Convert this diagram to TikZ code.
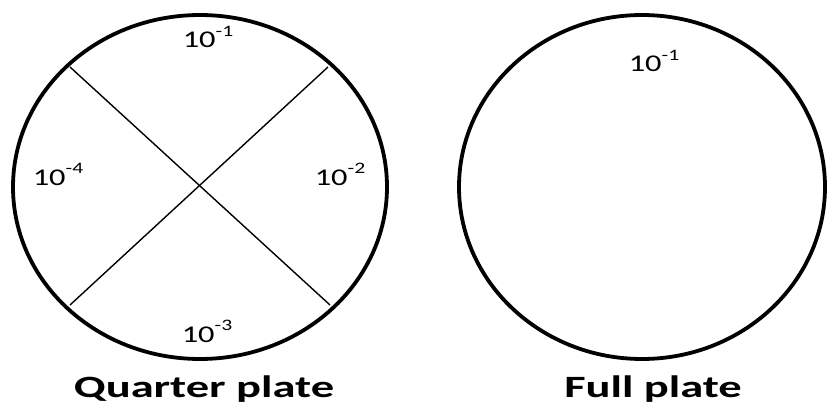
\documentclass[tikz,border=0pt]{standalone}
\usepackage{fontspec}
\setmainfont{Carlito}
\newcommand{\dilsup}[1]{\raisebox{0.48em}{\fontsize{16}{17}\selectfont #1}}
\begin{document}
\begin{tikzpicture}[x=1pt,y=1pt,
  plate/.style={draw=black,line width=3.8pt},
  divider/.style={draw=black,line width=1.4pt},
  dil/.style={font=\fontsize{24}{26}\selectfont,inner sep=0pt,xscale=1.35},
  caption/.style={font=\fontsize{31}{33}\selectfont\bfseries,inner sep=0pt,xscale=1.5}]
\useasboundingbox (0,0) rectangle (827,405);
% left plate
\coordinate (lc) at (200,218);
\draw[plate] (lc) ellipse [x radius=187, y radius=172];
\coordinate (a1) at (70,338);
\coordinate (a2) at (330,100);
\coordinate (b1) at (328,338);
\coordinate (b2) at (70,100);
\draw[divider] (a1) -- (a2);
\draw[divider] (b1) -- (b2);
\node[dil,anchor=base] (q1) at (208,357) {10\dilsup{-1}};
\node[dil,anchor=base] (q2) at (340,220) {10\dilsup{-2}};
\node[dil,anchor=base] (q3) at (207,63) {10\dilsup{-3}};
\node[dil,anchor=base] (q4) at (58,220) {10\dilsup{-4}};
\node[caption,anchor=base] (qcap) at (204,8) {Quarter plate};
% right plate
\coordinate (rc) at (642,218);
\draw[plate] (rc) ellipse [x radius=183, y radius=172];
\node[dil,anchor=base] (f1) at (654,333) {10\dilsup{-1}};
\node[caption,anchor=base] (fcap) at (653,8) {Full plate};
\end{tikzpicture}
\end{document}
